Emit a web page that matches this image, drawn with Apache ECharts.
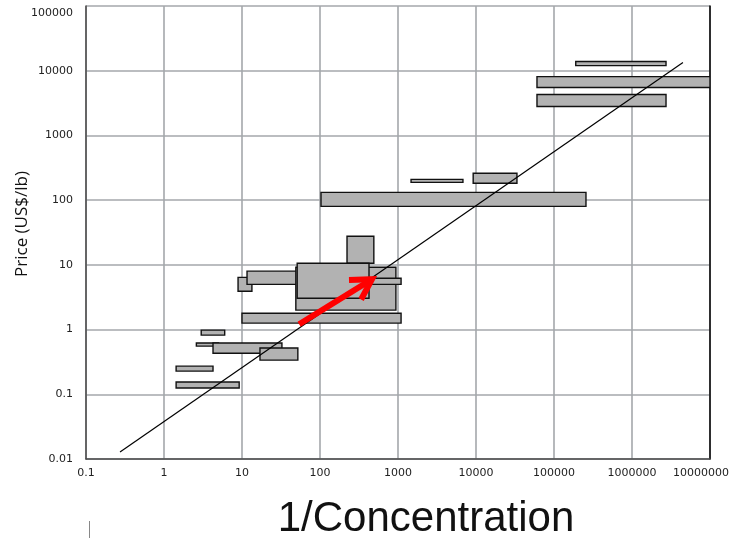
<!DOCTYPE html>
<html>
<head>
<meta charset="utf-8">
<script src="https://cdn.jsdelivr.net/npm/echarts@6/dist/echarts.min.js"></script>
<style>html,body{margin:0;padding:0;background:#fff;}#c{width:732px;height:538px;}</style>
</head>
<body>
<div id="c"></div>
<script>
// Boxes: [xMin, xMax, yMin, yMax] in (1/Concentration, Price US$/lb), in drawing order
const boxNames = ['b1','b2','b3','b4','b5','b6','b7','b8','b13','b10','b11','b12','b9','b14','b15','b16','b17','b18','b19'];
const boxXMin = [3.0, 2.6, 4.25, 17, 1.43, 1.43, 8.9, 11.6, 10, 222, 49, 410, 51, 103, 1470, 9200, 190000, 60500, 60500];
const boxXMax = [6.0, 5.0, 32.5, 52, 4.25, 9.2, 13.4, 51, 1095, 490, 940, 1095, 425, 257000, 6800, 33500, 2730000, 10000000, 2730000];
const boxYMin = [0.82, 0.555, 0.43, 0.337, 0.228, 0.125, 3.9, 5.0, 1.26, 10.6, 2.0, 5.0, 3.05, 80, 188, 182, 12000, 5500, 2800];
const boxYMax = [0.98, 0.62, 0.62, 0.52, 0.272, 0.155, 6.4, 8.0, 1.79, 27.6, 9.2, 6.2, 10.6, 132, 209, 260, 13900, 8100, 4300];

// Trend line end points
const trendX = [0.273, 4500000];
const trendY = [0.0128, 13400];

// Red arrow: tail and tip
const arrowX = [54, 464];
const arrowY = [1.21, 6.0];

const xTicks = ['0.1','1','10','100','1000','10000','100000','1000000','10000000'];
const yTicks = ['0.01','0.1','1','10','100','1000','10000','100000'];

const boxData = boxXMin.map((v, i) => [v, boxXMax[i], boxYMin[i], boxYMax[i]]);

function fmt(v) {
  const e = Math.round(Math.log10(v));
  return e < 0 ? Math.pow(10, e).toFixed(-e) : '1' + '0'.repeat(e);
}

const chart = echarts.init(document.getElementById('c'), null, {renderer: 'canvas'});
const labelFont = 'DejaVu Sans';

const option = {
  backgroundColor: '#ffffff',
  animation: false,
  grid: {left: 86, right: 22, top: 6, bottom: 79, containLabel: false},
  xAxis: {
    type: 'log', logBase: 10, min: 0.1, max: 10000000,
    axisLine: {show: true, lineStyle: {color: '#4a4a4a', width: 1.5}},
    axisTick: {show: false},
    splitLine: {show: true, lineStyle: {color: '#a4a7ab', width: 1.6}},
    axisLabel: {
      margin: 9, fontFamily: labelFont, fontSize: 11, color: '#222',
      formatter: function (v) {
        const s = fmt(v);
        return s === xTicks[xTicks.length - 1] ? '{last|' + s + '}' : s;
      },
      rich: {last: {fontFamily: labelFont, fontSize: 11, color: '#222', padding: [0, 18, 0, 0]}}
    }
  },
  yAxis: [{
    type: 'log', logBase: 10, min: 0.01, max: 100000,
    axisLine: {show: true, lineStyle: {color: '#4a4a4a', width: 1.5}},
    axisTick: {show: false},
    splitLine: {show: true, lineStyle: {color: '#a4a7ab', width: 1.6}},
    axisLabel: {
      margin: 13, fontFamily: labelFont, fontSize: 11, color: '#222',
      formatter: function (v) {
        const s = fmt(v);
        return s === yTicks[yTicks.length - 1] ? '{top|' + s + '}' : s;
      },
      rich: {top: {fontFamily: labelFont, fontSize: 11, color: '#222', padding: [14, 0, 0, 0]}}
    }
  }, {
    type: 'log', logBase: 10, min: 0.01, max: 100000, position: 'right',
    axisLine: {show: true, lineStyle: {color: '#000', width: 1.5}},
    axisTick: {show: false}, axisLabel: {show: false}, splitLine: {show: false}
  }],
  series: [{
    type: 'custom',
    coordinateSystem: 'cartesian2d',
    xAxisIndex: 0, yAxisIndex: 0,
    data: boxData,
    encode: {x: [0, 1], y: [2, 3]},
    clip: true,
    z: 2,
    renderItem: function (params, api) {
      const p0 = api.coord([api.value(0), api.value(3)]);
      const p1 = api.coord([api.value(1), api.value(2)]);
      const shape = echarts.graphic.clipRectByRect(
        {x: p0[0], y: p0[1], width: p1[0] - p0[0], height: p1[1] - p0[1]},
        {x: params.coordSys.x, y: params.coordSys.y, width: params.coordSys.width, height: params.coordSys.height}
      );
      return shape && {
        type: 'rect', shape: shape,
        style: {fill: '#b2b2b2', stroke: '#111', lineWidth: 1.4}
      };
    }
  }, {
    type: 'line',
    xAxisIndex: 0, yAxisIndex: 0,
    data: trendX.map((v, i) => [v, trendY[i]]),
    symbol: 'none', z: 5,
    lineStyle: {color: '#000', width: 1.2}
  }, {
    type: 'custom',
    coordinateSystem: 'cartesian2d',
    xAxisIndex: 0, yAxisIndex: 0,
    data: [[arrowX[0], arrowY[0], arrowX[1], arrowY[1]]],
    encode: {x: [0, 2], y: [1, 3]},
    z: 6,
    renderItem: function (params, api) {
      const a = api.coord([api.value(0), api.value(1)]);
      const b = api.coord([api.value(2), api.value(3)]);
      const ang = Math.atan2(a[1] - b[1], a[0] - b[0]);
      const L = 23, spread = 30 * Math.PI / 180;
      const h1 = [b[0] + L * Math.cos(ang - spread), b[1] + L * Math.sin(ang - spread)];
      const h2 = [b[0] + L * Math.cos(ang + spread), b[1] + L * Math.sin(ang + spread)];
      return {
        type: 'group',
        children: [
          {type: 'line', shape: {x1: a[0], y1: a[1], x2: b[0], y2: b[1]},
           style: {stroke: '#ff0000', lineWidth: 6}},
          {type: 'polyline', shape: {points: [h1, b, h2]},
           style: {stroke: '#ff0000', lineWidth: 6, fill: null, lineJoin: 'miter'}}
        ]
      };
    }
  }],
  graphic: [{
    type: 'text', x: 22, y: 224, rotation: Math.PI / 2,
    style: {text: 'Price (US$/lb)', fontFamily: 'Open Sans', fontSize: 17, fill: '#111',
            align: 'center', verticalAlign: 'middle'}
  }, {
    type: 'text', x: 426, y: 519,
    style: {text: '1/Concentration', fontFamily: 'Liberation Sans', fontSize: 42, fill: '#111',
            align: 'center', verticalAlign: 'middle'}
  }, {
    type: 'line', shape: {x1: 89.5, y1: 521, x2: 89.5, y2: 538},
    style: {stroke: '#888', lineWidth: 1}
  }]
};
chart.setOption(option);
</script>
</body>
</html>
